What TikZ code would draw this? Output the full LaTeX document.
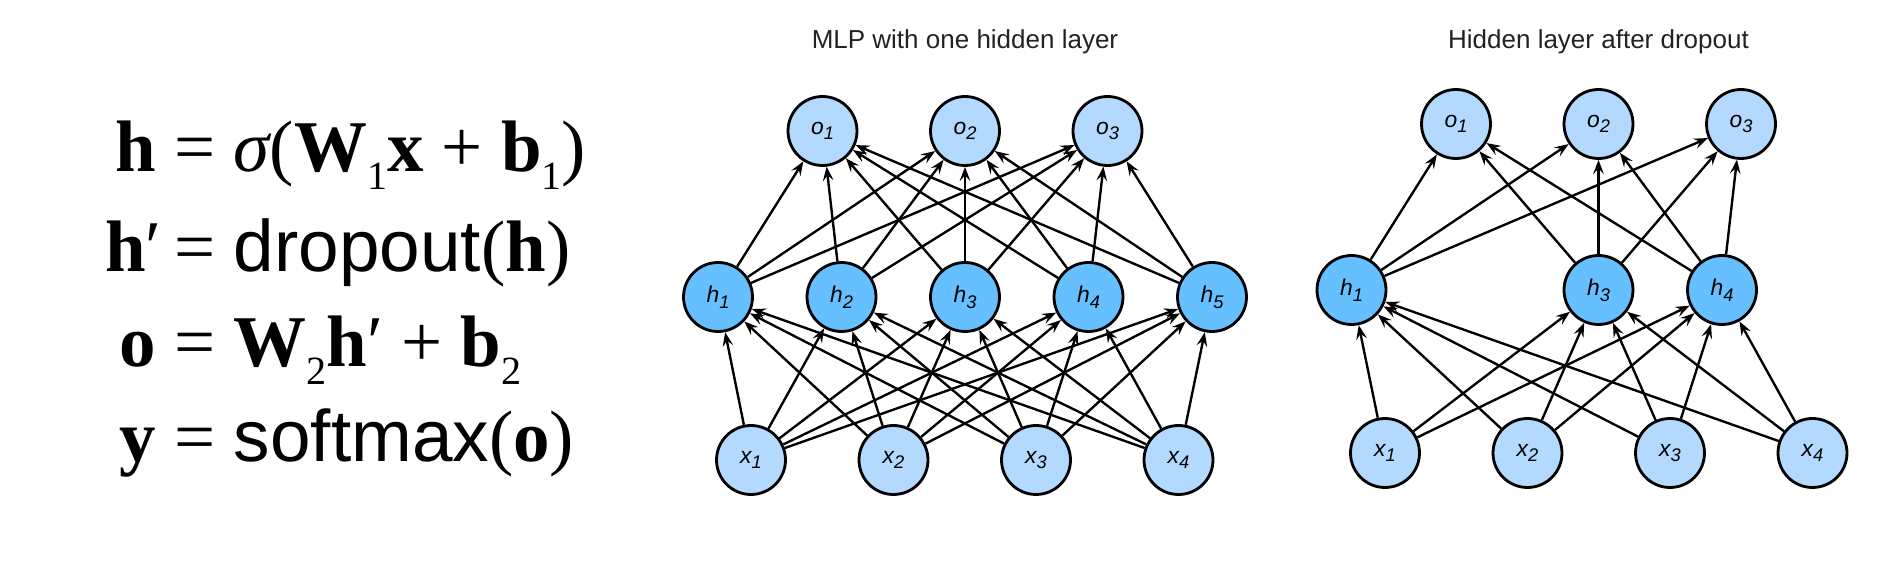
\documentclass[tikz,border=0pt]{standalone}
\usepackage{fontspec}
\usepackage{tikz}
\usetikzlibrary{arrows.meta}
\newfontfamily\eqrm{Liberation Serif}
\newfontfamily\eqsf{Liberation Sans}
\definecolor{AzzurroIn}{HTML}{B3D9FF}
\definecolor{AzzurroHid}{HTML}{66BFFF}
\definecolor{GrigioTit}{HTML}{222222}
\newcommand{\pedice}[2][0.55]{\raisebox{-0.25em}{\scalebox{#1}{#2}}}

\begin{document}
\begin{tikzpicture}[x=0.02cm, y=-0.02cm,
  neuron/.style={circle, draw, line width=1.6pt, fill=AzzurroIn,
    minimum size=1.38cm, inner sep=0pt,
    font=\eqsf\itshape\fontsize{13pt}{13pt}\selectfont},
  hidden/.style={neuron, fill=AzzurroHid},
  link/.style={->, line width=1.35pt},
  eq/.style={inner sep=0pt, font=\eqrm\fontsize{41.5pt}{41.5pt}\selectfont},
  titolo/.style={inner sep=0pt, text=GrigioTit,
    font=\eqsf\fontsize{14.8pt}{14.8pt}\selectfont},
  >={Stealth[length=8pt, width=6pt, inset=3pt]}]
  \useasboundingbox (0,0) rectangle (1898,570);

  \node[eq, anchor=base east] (eq1l) at (156,171.7) {\bfseries h};
  \node[eq, anchor=base west] (eq1r) at (156,171.7)
    {\ = {\itshape σ}({\bfseries W}\pedice{1}{\bfseries x} + {\bfseries b}\pedice{1})};
  \node[eq, anchor=base east] (eq2l) at (162,271.7) {{\bfseries h}′};
  \node[eq, anchor=base west] (eq2r) at (156,271.7)
    {\ = {\eqsf dropout}({\bfseries h})};
  \node[eq, anchor=base east] (eq3l) at (156,366.7) {\bfseries o};
  \node[eq, anchor=base west] (eq3r) at (156,366.7)
    {\ = {\bfseries W}\pedice{2}{\bfseries h}′ + {\bfseries b}\pedice{2}};
  \node[eq, anchor=base east] (eq4l) at (156,461.7) {\bfseries y};
  \node[eq, anchor=base west] (eq4r) at (156,461.7)
    {\ = {\eqsf softmax}({\bfseries o})};

  \node[titolo, anchor=base] (tit1) at (965,49) {MLP with one hidden layer};
  \node[titolo, anchor=base] (tit2) at (1598.5,49) {Hidden layer after dropout};

  \foreach \i in {1,...,3}
    \node[neuron] (o\i) at ({822.5+142.5*(\i-1)},131) {o\pedice[0.8]{\i}};
  \foreach \i in {1,...,5}
    \node[hidden] (h\i) at ({718+123.5*(\i-1)},297) {h\pedice[0.8]{\i}};
  \foreach \i in {1,...,4}
    \node[neuron] (x\i) at ({751+142.5*(\i-1)},460) {x\pedice[0.8]{\i}};

  \foreach \i in {1,...,3}
    \node[neuron] (do\i) at ({1456+142.5*(\i-1)},124) {o\pedice[0.8]{\i}};
  \foreach \i in {1,3,4}
    \node[hidden] (dh\i) at ({1351.5+123.5*(\i-1)},290) {h\pedice[0.8]{\i}};
  \foreach \i in {1,...,4}
    \node[neuron] (dx\i) at ({1385+142.5*(\i-1)},453) {x\pedice[0.8]{\i}};

  \foreach \i in {1,...,4}
    \foreach \j in {1,...,5}
      \draw[link] (x\i) -- (h\j);
  \foreach \i in {1,...,5}
    \foreach \j in {1,...,3}
      \draw[link] (h\i) -- (o\j);

  \foreach \i in {1,...,4}
    \foreach \j in {1,3,4}
      \draw[link] (dx\i) -- (dh\j);
  \foreach \i in {1,3,4}
    \foreach \j in {1,...,3}
      \draw[link] (dh\i) -- (do\j);
\end{tikzpicture}
\end{document}
